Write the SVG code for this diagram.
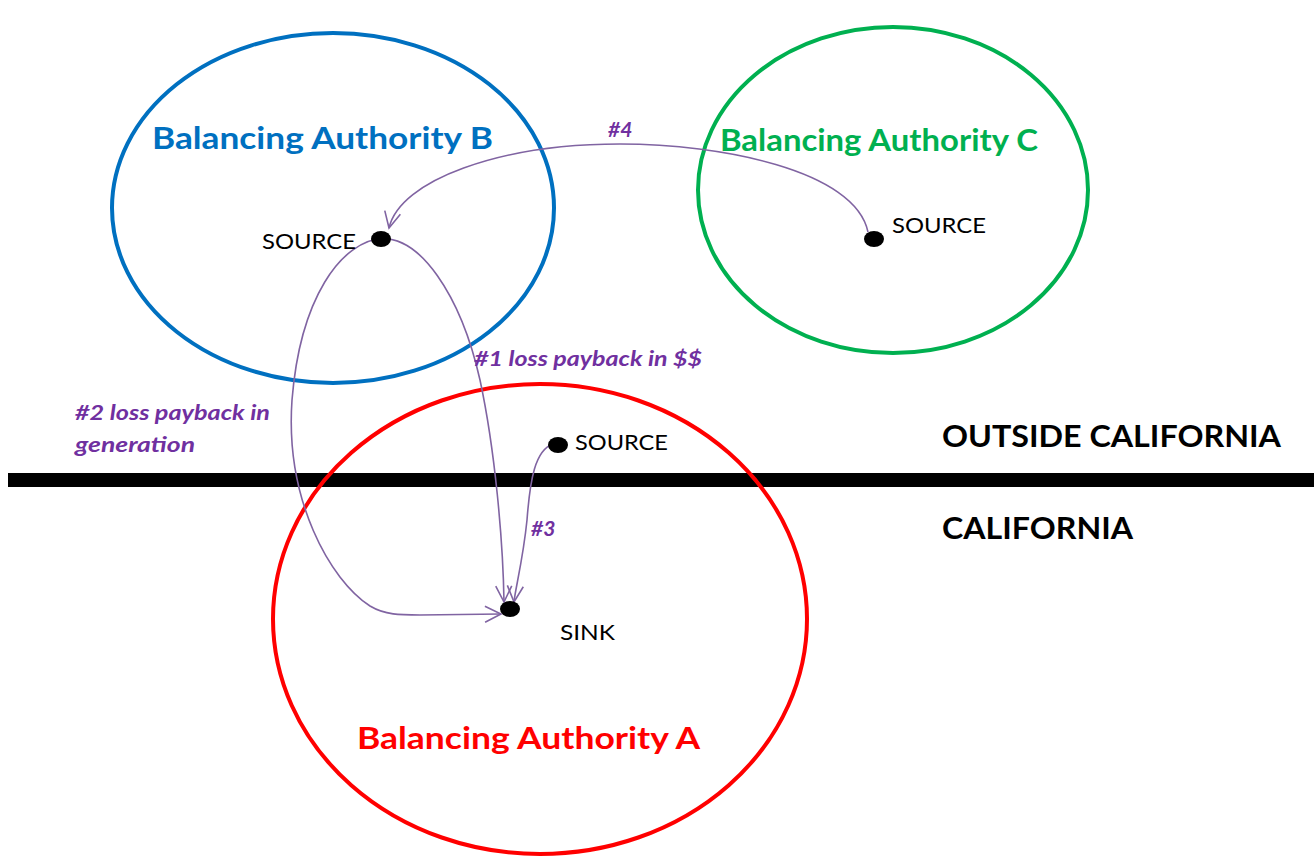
<svg xmlns="http://www.w3.org/2000/svg" width="1314" height="856" viewBox="0 0 1314 856">
  <style>
    .ba { fill: none; stroke-width: 4; }
    .title { font-family: Lato, "Open Sans", sans-serif; font-weight: bold; font-size: 30px; }
    .lbl { font-family: Lato, "Open Sans", sans-serif; font-size: 21px; fill: #000; }
    .flow { fill: none; stroke: #8064A2; stroke-width: 1.6; marker-end: url(#arrow); }
    .flowlbl { font-family: Lato, "Open Sans", sans-serif; font-weight: bold; font-style: italic; font-size: 21px; fill: #7030A0; }
    .region { font-family: Lato, "Open Sans", sans-serif; font-weight: bold; font-size: 30px; fill: #000; }
  </style>
  <defs>
    <marker id="arrow" viewBox="0 0 20 20" refX="18" refY="10" markerWidth="20" markerHeight="20" markerUnits="userSpaceOnUse" orient="auto">
      <path d="M2,2 L18,10 L2,18" fill="none" stroke="#8064A2" stroke-width="1.6"/>
    </marker>
  </defs>
  <rect width="1314" height="856" fill="#fff"/>

  <!-- state boundary -->
  <line x1="8" y1="480" x2="1314" y2="480" stroke="#000" stroke-width="14"/>
  <text class="region" x="942" y="447" textLength="339" lengthAdjust="spacingAndGlyphs">OUTSIDE CALIFORNIA</text>
  <text class="region" x="942" y="539" textLength="191" lengthAdjust="spacingAndGlyphs">CALIFORNIA</text>

  <g id="ba-b">
    <ellipse class="ba" cx="333" cy="208" rx="221" ry="175" stroke="#0070C0"/>
    <text class="title" x="152" y="149" fill="#0070C0" textLength="341" lengthAdjust="spacingAndGlyphs">Balancing Authority B</text>
  </g>
  <g id="ba-c">
    <ellipse class="ba" cx="893" cy="190" rx="195" ry="163" stroke="#00B050"/>
    <text class="title" x="720" y="151" fill="#00B050" textLength="318" lengthAdjust="spacingAndGlyphs">Balancing Authority C</text>
  </g>
  <g id="ba-a">
    <ellipse class="ba" cx="540" cy="619" rx="267" ry="235" stroke="#FF0000"/>
    <text class="title" x="357" y="749" fill="#FF0000" textLength="343" lengthAdjust="spacingAndGlyphs">Balancing Authority A</text>
  </g>

  <g id="connectors">
    <path class="flow" d="M868,232 C855,170 720,144 620,144 C500,144 400,180 389,228"/>
    <path class="flow" d="M372,240 C420,228 462,300 480,380 C495,450 503,540 504,602"/>
    <path class="flow" d="M385,238 C340,240 300,300 292,400 C285,500 330,580 370,606 C385,615 400,615 420,615 L501,614"/>
    <path class="flow" d="M553,444 C535,450 530,480 527,520 C523,560 515,590 514,602"/>
    <text class="flowlbl" x="608" y="137">#4</text>
    <text class="flowlbl" x="474" y="366" textLength="228" lengthAdjust="spacingAndGlyphs">#1 loss payback in $$</text>
    <text class="flowlbl" x="75" y="420" textLength="195" lengthAdjust="spacingAndGlyphs">#2 loss payback in</text>
    <text class="flowlbl" x="75" y="452" textLength="120" lengthAdjust="spacingAndGlyphs">generation</text>
    <text class="flowlbl" x="531" y="536">#3</text>
  </g>

  <g id="source-b">
    <ellipse cx="381" cy="239" rx="10" ry="8" fill="#000"/>
    <text class="lbl" x="262" y="249" textLength="94" lengthAdjust="spacingAndGlyphs">SOURCE</text>
  </g>
  <g id="source-c">
    <ellipse cx="874" cy="239" rx="10" ry="8" fill="#000"/>
    <text class="lbl" x="892" y="233" textLength="94" lengthAdjust="spacingAndGlyphs">SOURCE</text>
  </g>
  <g id="source-a">
    <ellipse cx="558" cy="445" rx="10" ry="8" fill="#000"/>
    <text class="lbl" x="575" y="450" textLength="93" lengthAdjust="spacingAndGlyphs">SOURCE</text>
  </g>
  <g id="sink-a">
    <ellipse cx="510" cy="609" rx="10" ry="8" fill="#000"/>
    <text class="lbl" x="560" y="640" textLength="55" lengthAdjust="spacingAndGlyphs">SINK</text>
  </g>
</svg>
